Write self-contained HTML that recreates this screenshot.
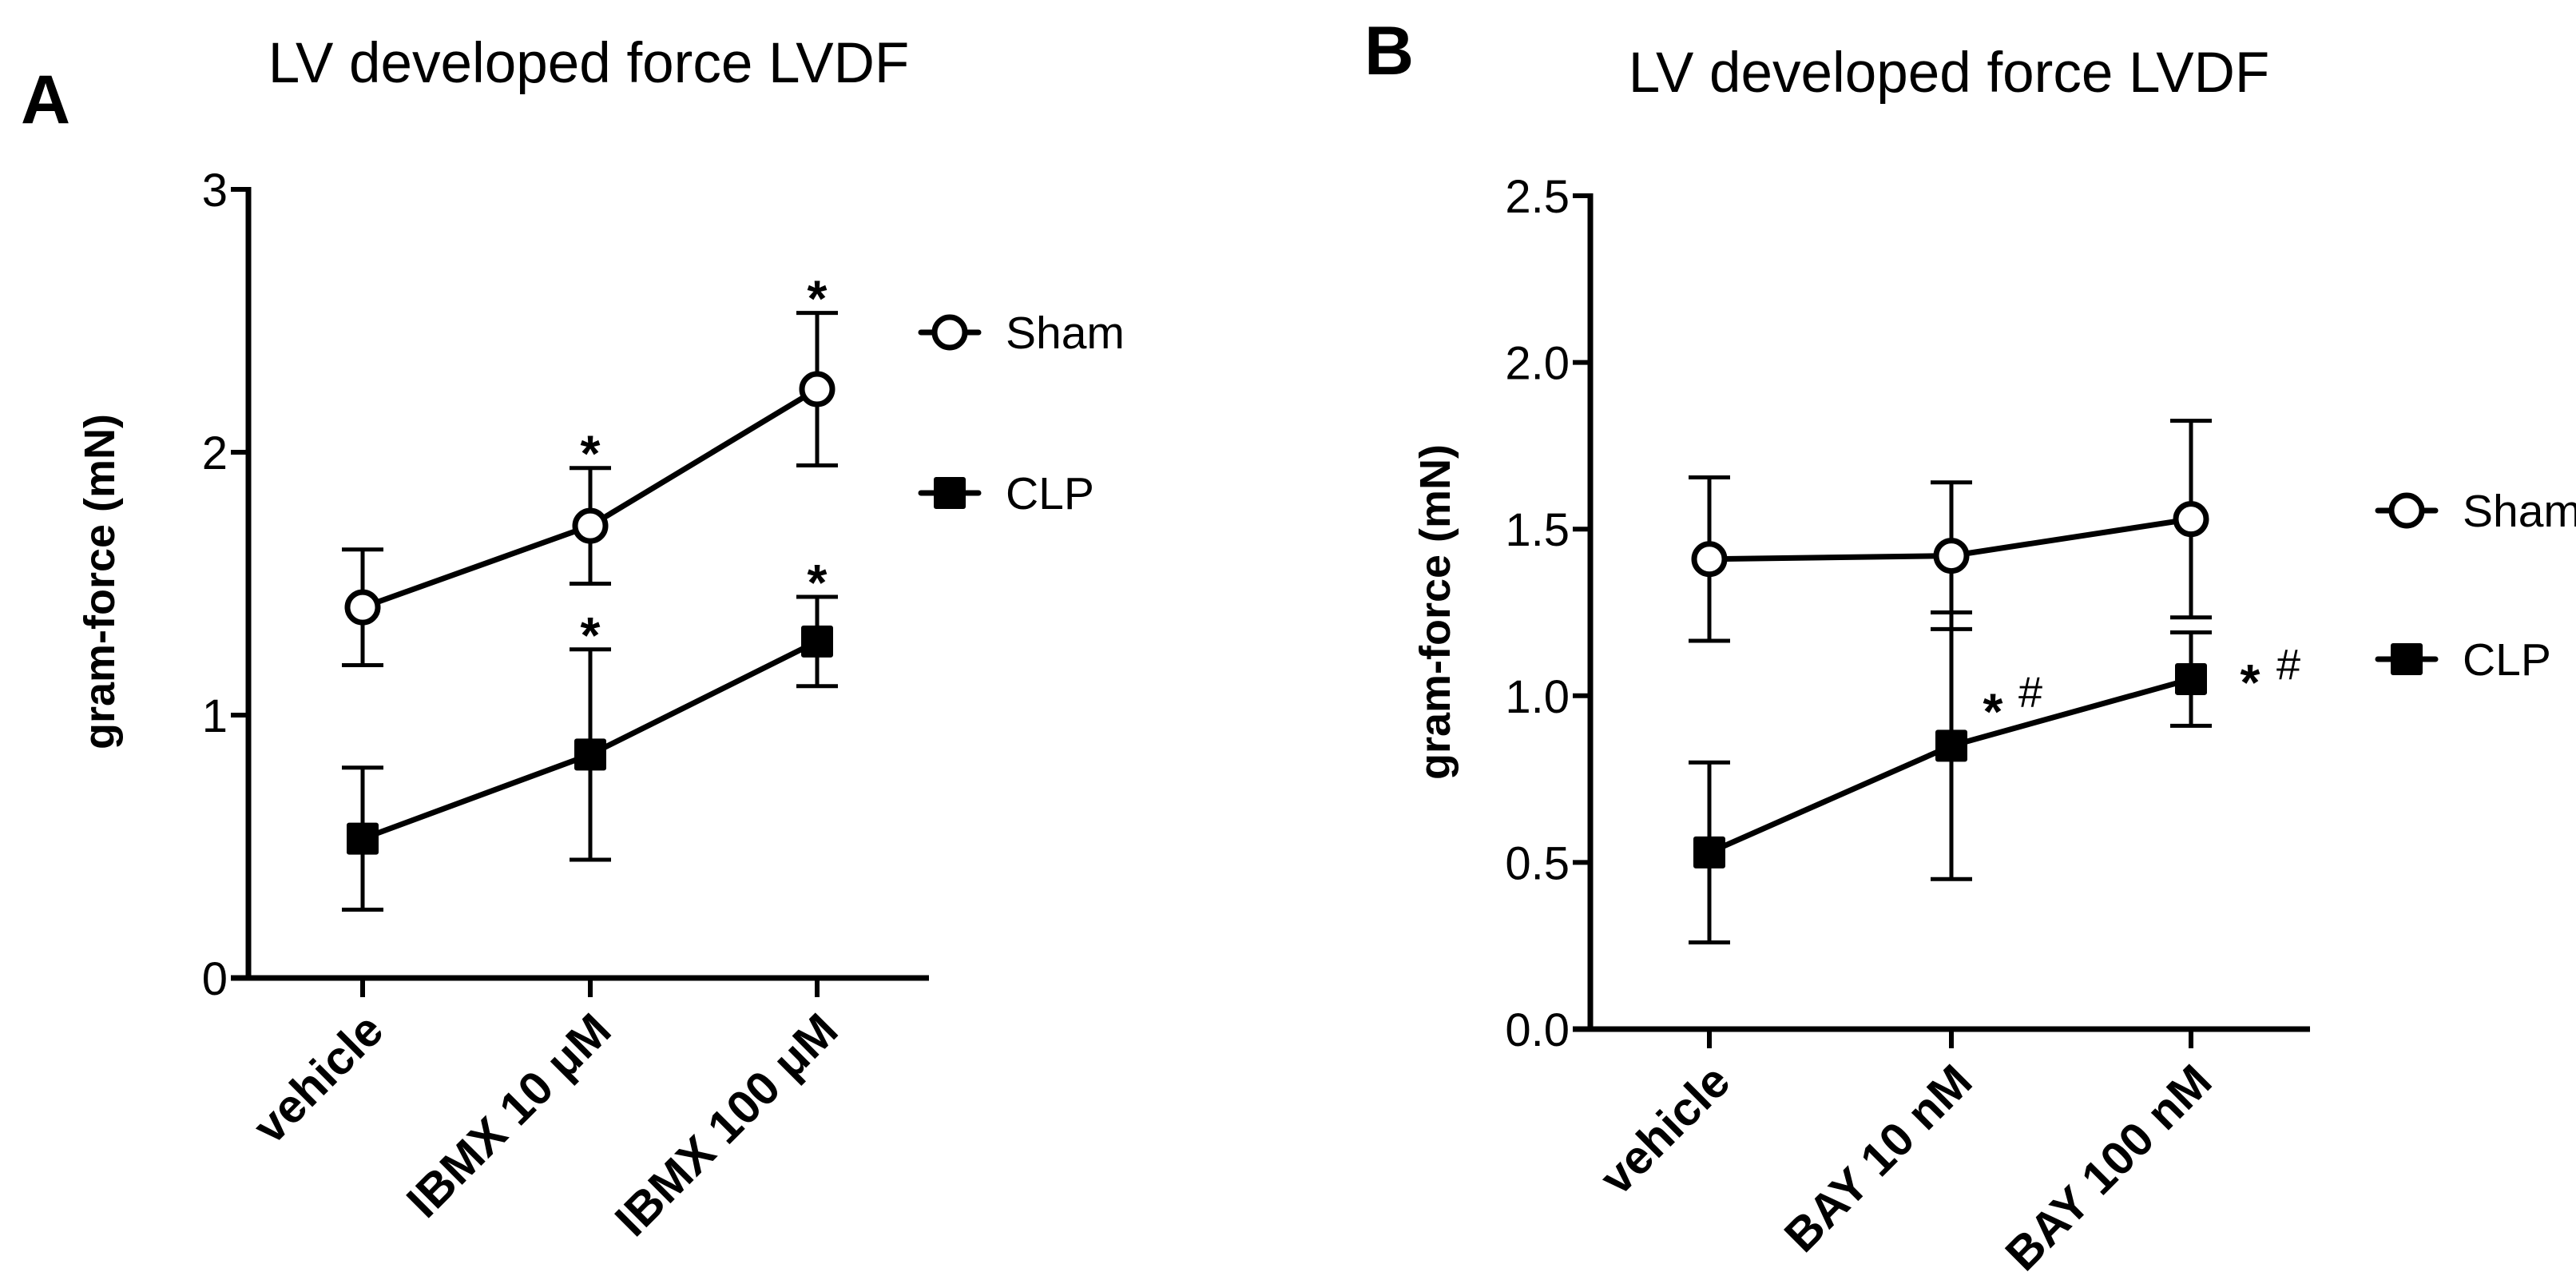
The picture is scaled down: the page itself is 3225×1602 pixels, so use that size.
<!DOCTYPE html>
<html><head><meta charset="utf-8"><style>
html,body{margin:0;padding:0;background:#fff}
svg{display:block}
text{font-family:"Liberation Sans",Arial,sans-serif;fill:#000}
</style></head><body>
<svg id="fig" xmlns="http://www.w3.org/2000/svg" width="3225" height="1602" viewBox="0 0 3225 1602">
<rect width="3225" height="1602" fill="#fff"/>
<text x="26" y="154" font-size="86" font-weight="bold">A</text>
<text x="1708" y="93" font-size="86" font-weight="bold">B</text>
<g id="pa"></g>
<g id="pb"></g>
</svg>
<script>
const catsA = ["vehicle", "IBMX 10 μM", "IBMX 100 μM"];
const shamA = [1.41, 1.72, 2.24];
const shamErrA = [0.22, 0.22, 0.29];
const clpA = [0.53, 0.85, 1.28];
const clpErrA = [0.27, 0.40, 0.17];
const ticksA = [0, 1, 2, 3];
const tickLabelsA = ["0", "1", "2", "3"];

const catsB = ["vehicle", "BAY 10 nM", "BAY 100 nM"];
const shamB = [1.41, 1.42, 1.53];
const shamErrB = [0.245, 0.22, 0.295];
const clpB = [0.53, 0.85, 1.05];
const clpErrB = [0.27, 0.40, 0.14];
const ticksB = [0, 0.5, 1.0, 1.5, 2.0, 2.5];
const tickLabelsB = ["0.0", "0.5", "1.0", "1.5", "2.0", "2.5"];

const NS = "http://www.w3.org/2000/svg";
function mk(parent, tag, attrs, txt) {
  const e = document.createElementNS(NS, tag);
  for (const k in attrs) e.setAttribute(k, attrs[k]);
  if (txt !== undefined) e.textContent = txt;
  parent.appendChild(e);
  return e;
}

function drawPanel(g, cfg) {
  const y = v => cfg.y0 - (v - cfg.vmin) / (cfg.vmax - cfg.vmin) * (cfg.y0 - cfg.y1);
  const x = i => cfg.cx[i];
  let e;
  e = mk(g, "text", {x: cfg.titleX, y: cfg.titleY, "font-size": 71, "text-anchor": "middle"}, "LV developed force LVDF");
  
  
  e = mk(g, "line", {x1: cfg.ax, y1: cfg.y1 - 3, x2: cfg.ax, y2: cfg.y0 + 3, stroke: "#000", "stroke-width": 7});
  
  
  e = mk(g, "line", {x1: cfg.ax - 22, y1: cfg.y0, x2: cfg.axEnd, y2: cfg.y0, stroke: "#000", "stroke-width": 7});
  
  
  cfg.ticks.forEach((t, i) => {
    const ty = y(t);
    e = mk(g, "line", {x1: cfg.ax - 22, y1: ty, x2: cfg.ax, y2: ty, stroke: "#000", "stroke-width": 6});
    
    
    e = mk(g, "text", {x: cfg.ax - 26, y: ty + 21, "font-size": 58, "text-anchor": "end"}, cfg.tickLabels[i]);
    
    
  });
  cfg.cats.forEach((c, i) => {
    e = mk(g, "line", {x1: x(i), y1: cfg.y0, x2: x(i), y2: cfg.y0 + 24, stroke: "#000", "stroke-width": 6});
    
    
    e = mk(g, "text", {transform: `translate(${x(i)},${cfg.y0 + 40}) rotate(-45)`, "font-size": 59, "font-weight": "bold", "text-anchor": "end", dy: "0.7em"}, c);
    
    
  });
  e = mk(g, "text", {transform: `translate(${cfg.ytX},${cfg.ytY}) rotate(-90)`, "font-size": 54, "font-weight": "bold", "text-anchor": "middle"}, "gram-force (mN)");
  
  

  function series(vals, errs, shape, name) {
    vals.forEach((v, i) => {
      const top = y(v + errs[i]), bot = y(v - errs[i]);
      e = mk(g, "path", {d: `M${x(i)},${top}V${bot}M${x(i) - 26},${top}h52M${x(i) - 26},${bot}h52`, stroke: "#000", "stroke-width": 5, fill: "none"});
      
      
    });
    const pts = vals.map((v, i) => `${x(i)},${y(v)}`).join(" ");
    e = mk(g, "polyline", {points: pts, stroke: "#000", "stroke-width": 7, fill: "none"});
    
    
    vals.forEach((v, i) => {
      if (shape === "circle") {
        e = mk(g, "circle", {cx: x(i), cy: y(v), r: 19, fill: "#fff", stroke: "#000", "stroke-width": 7});
      } else {
        e = mk(g, "rect", {x: x(i) - 20, y: y(v) - 20, width: 40, height: 40, rx: 3, fill: "#000"});
      }
      
      
    });
  }
  series(cfg.sham, cfg.shamErr, "circle", "sham");
  series(cfg.clp, cfg.clpErr, "square", "clp");

  cfg.stars.forEach(s => {
    const vals = s.s === "sham" ? cfg.sham : cfg.clp;
    const errs = s.s === "sham" ? cfg.shamErr : cfg.clpErr;
    const cy = y(vals[s.i] + errs[s.i]);
    e = mk(g, "text", {x: x(s.i), y: cy + 4, "font-size": 64, "font-weight": "bold", "text-anchor": "middle"}, "*");
    
    
  });
  cfg.hash.forEach(h => {
    const cy = y(cfg.clp[h.i]);
    e = mk(g, "text", {x: x(h.i) + h.sx, y: cy + h.sdy, "font-size": 64, "font-weight": "bold", "text-anchor": "middle"}, "*");
    
    
    e = mk(g, "text", {x: x(h.i) + h.hx, y: cy + h.hdy, "font-size": 54, "text-anchor": "middle"}, "#");
    
    
  });

  const L = cfg.leg;
  let lg = mk(g, "g", {});
  
  
  mk(lg, "line", {x1: L.x - 36, y1: L.y1, x2: L.x + 36, y2: L.y1, stroke: "#000", "stroke-width": 7, "stroke-linecap": "round"});
  mk(lg, "circle", {cx: L.x, cy: L.y1, r: 19, fill: "#fff", stroke: "#000", "stroke-width": 7});
  mk(lg, "text", {x: L.x + 70, y: L.y1 + 20, "font-size": 57}, "Sham");
  lg = mk(g, "g", {});
  
  
  mk(lg, "line", {x1: L.x - 36, y1: L.y2, x2: L.x + 36, y2: L.y2, stroke: "#000", "stroke-width": 7, "stroke-linecap": "round"});
  mk(lg, "rect", {x: L.x - 20, y: L.y2 - 20, width: 40, height: 40, rx: 3, fill: "#000"});
  mk(lg, "text", {x: L.x + 70, y: L.y2 + 20, "font-size": 57}, "CLP");
}

drawPanel(document.getElementById("pa"), {
  cats: catsA, sham: shamA, shamErr: shamErrA, clp: clpA, clpErr: clpErrA,
  ticks: ticksA, tickLabels: tickLabelsA, vmin: 0, vmax: 3,
  y0: 1224, y1: 237, ax: 311, axEnd: 1163, cx: [454, 739, 1023],
  titleX: 737, titleY: 103, ytX: 143, ytY: 728,
  stars: [{s: "sham", i: 1}, {s: "sham", i: 2}, {s: "clp", i: 1}, {s: "clp", i: 2}],
  hash: [], leg: {x: 1189, y1: 416, y2: 617}
});
drawPanel(document.getElementById("pb"), {
  cats: catsB, sham: shamB, shamErr: shamErrB, clp: clpB, clpErr: clpErrB,
  ticks: ticksB, tickLabels: tickLabelsB, vmin: 0, vmax: 2.5,
  y0: 1288, y1: 245, ax: 1991, axEnd: 2892, cx: [2140, 2443, 2743],
  titleX: 2440, titleY: 115, ytX: 1815, ytY: 766,
  stars: [],
  hash: [{i: 1, sx: 52, sdy: -21, hx: 99, hdy: -49}, {i: 2, sx: 74, sdy: 26, hx: 122, hdy: 0}],
  leg: {x: 3013, y1: 639, y2: 825}
});
</script>
</body></html>
